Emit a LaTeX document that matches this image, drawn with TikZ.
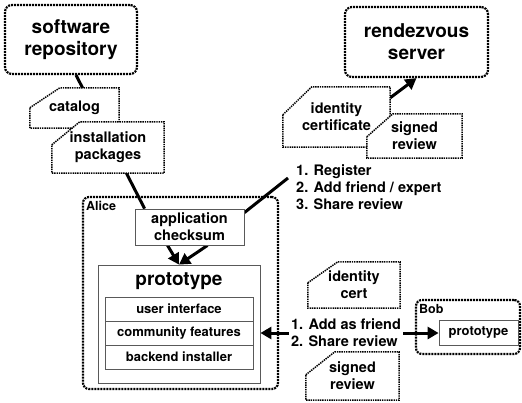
\documentclass[tikz,border=0pt]{standalone}
\usepackage{fontspec}
\setmainfont{TeX Gyre Heros}
\usetikzlibrary{arrows.meta,calc}
\pgfdeclarelayer{links}
\pgfdeclarelayer{docs}
\pgfsetlayers{links,docs,main}
\newcommand{\bigtxt}{\fontsize{19}{22}\selectfont\bfseries}
\newcommand{\midtxt}{\fontsize{14.5}{16.7}\selectfont\bfseries}
\newcommand{\smalltxt}{\fontsize{13}{15}\selectfont\bfseries}
\newcommand{\tinytxt}{\fontsize{12.5}{14}\selectfont\bfseries}
\newcommand{\docshape}[3]{%
  \path[docline] ([yshift=-#3]#1.north west) -- ([xshift=#2]#1.north west)
    -- (#1.north east) -- (#1.south east) -- (#1.south west) -- cycle;}
\tikzset{
  server/.style={draw, line width=2.2pt, dash pattern=on 2pt off 1pt, rounded corners=7pt, align=center, font=\bigtxt},
  group/.style={draw, line width=2.2pt, dash pattern=on 2pt off 1pt, rounded corners=6pt},
  doc/.style={align=center, font=\midtxt, inner sep=0pt},
  docline/.style={draw, fill=white, line width=1.5pt, dash pattern=on 1.4pt off 0.9pt},
  part/.style={draw=black!65, fill=white, line width=0.8pt, align=center},
  link/.style={line width=3pt},
  arrow/.style={line width=3pt, -{Triangle[length=11pt,width=12pt]}},
  txt/.style={font=\midtxt, align=left, inner sep=2pt}
}

\begin{document}
\begin{tikzpicture}[x=1pt, y=-1pt]
  \useasboundingbox (0,0) rectangle (522,402);
  \node[server, minimum width=132, minimum height=69] (repo) at (71,39.5) {software\\repository};
  \node[server, minimum width=143, minimum height=70] (rv) at (416.5,42) {rendezvous\\server};

  \node[doc, minimum width=89, minimum height=40] (cat) at (74.5,108) {catalog};
  \node[doc, minimum width=112, minimum height=51] (pkg) at (108,147.5) {installation\\packages};
  \node[doc, minimum width=107, minimum height=60] (idc) at (336.5,117) {identity\\certificate};
  \node[doc, minimum width=95, minimum height=44] (rvw) at (414.5,136) {signed\\review};
  \node[doc, minimum width=92, minimum height=46] (idb) at (354,285) {identity\\cert};
  \node[doc, minimum width=93, minimum height=48] (rvb) at (352.5,376) {signed\\review};

  \node[group, minimum width=195, minimum height=192] (alice) at (180.5,293) {};
  \node[font=\tinytxt, anchor=north west, inner sep=0pt] (alicelbl) at ([shift={(4,5)}]alice.north west) {Alice};
  \node[part, font=\midtxt, minimum width=109, minimum height=36, inner sep=0pt] (chk) at (189.5,227) {application\\checksum};
  \node[part, minimum width=162, minimum height=118] (proto) at (179,324) {};
  \node[font=\bigtxt] (ptitle) at (179,281) {prototype};
  \node[part, font=\smalltxt, minimum width=148, minimum height=24] (ui) at (179,309) {user interface};
  \node[part, font=\smalltxt, minimum width=148, minimum height=24] (comm) at (179,333) {community features};
  \node[part, font=\smalltxt, minimum width=148, minimum height=24] (be) at (179,357) {backend installer};

  \node[group, minimum width=104, minimum height=54] (bob) at (468,327) {};
  \node[font=\tinytxt, anchor=north west, inner sep=0pt] (boblbl) at ([shift={(4,5)}]bob.north west) {Bob};
  \node[part, font=\smalltxt, minimum width=79, minimum height=25] (bobp) at (478.5,333) {prototype};

  \node[txt, anchor=west] (reg) at (294,187) {1. Register\\2. Add friend / expert\\3. Share review};
  \node[txt, fill=white] (share) at (346,333) {1. Add as friend\\2. Share review};

  \begin{pgfonlayer}{links}
    \draw[link] ([xshift=5]repo.south) -- ([xshift=10]chk.north west);
    \draw[link] ([yshift=-4]chk.north east) -- ([shift={(-6,-9)}]reg.west);
    \draw[arrow] ([xshift=-22]chk.south) -- (proto.north);
    \draw[arrow] ([xshift=18]chk.south) -- (proto.north);
    \draw[arrow] ([yshift=-11]idc.north east) -- (rv.south);
    \draw[arrow] (share) -- (comm -| proto.east);
    \draw[arrow] (share) -- (bobp);
  \end{pgfonlayer}

  \begin{pgfonlayer}{docs}
    \docshape{cat}{30}{20}
    \docshape{pkg}{28}{23}
    \docshape{idc}{29}{28}
    \docshape{rvw}{26}{23}
    \docshape{idb}{30}{21}
    \docshape{rvb}{29}{23}
  \end{pgfonlayer}
\end{tikzpicture}
\end{document}
